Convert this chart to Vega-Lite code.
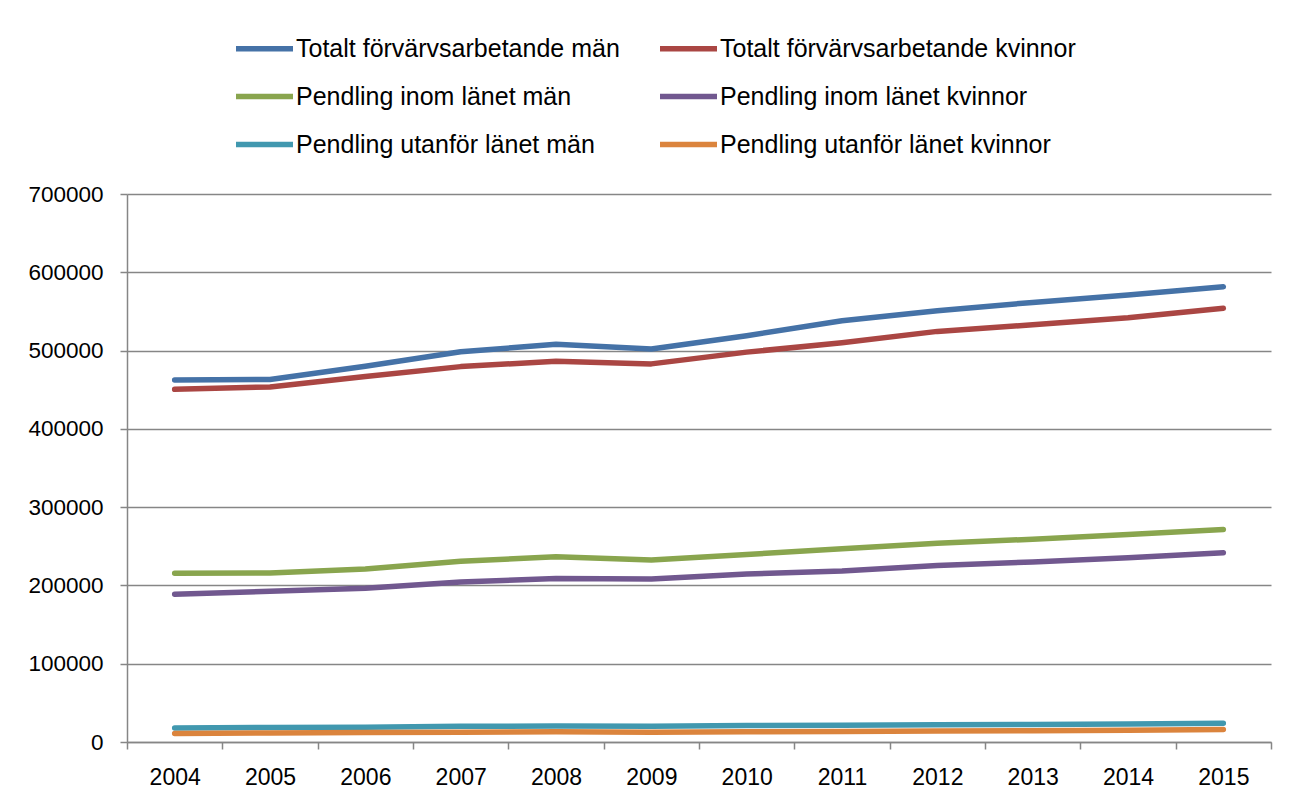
{
  "$schema": "https://vega.github.io/schema/vega-lite/v6.json",
  "width": 1144,
  "height": 548,
  "autosize": {"type": "none"},
  "padding": {"left": 127, "top": 194, "right": 30, "bottom": 63},
  "background": "white",
  "data": {"values": [
    {"year": "2004", "series": "Totalt förvärvsarbetande män", "value": 462500},
    {"year": "2005", "series": "Totalt förvärvsarbetande män", "value": 463000},
    {"year": "2006", "series": "Totalt förvärvsarbetande män", "value": 480000},
    {"year": "2007", "series": "Totalt förvärvsarbetande män", "value": 498500},
    {"year": "2008", "series": "Totalt förvärvsarbetande män", "value": 508000},
    {"year": "2009", "series": "Totalt förvärvsarbetande män", "value": 502000},
    {"year": "2010", "series": "Totalt förvärvsarbetande män", "value": 519000},
    {"year": "2011", "series": "Totalt förvärvsarbetande män", "value": 538000},
    {"year": "2012", "series": "Totalt förvärvsarbetande män", "value": 551000},
    {"year": "2013", "series": "Totalt förvärvsarbetande män", "value": 561500},
    {"year": "2014", "series": "Totalt förvärvsarbetande män", "value": 571000},
    {"year": "2015", "series": "Totalt förvärvsarbetande män", "value": 581500},
    {"year": "2004", "series": "Totalt förvärvsarbetande kvinnor", "value": 450500},
    {"year": "2005", "series": "Totalt förvärvsarbetande kvinnor", "value": 453500},
    {"year": "2006", "series": "Totalt förvärvsarbetande kvinnor", "value": 467000},
    {"year": "2007", "series": "Totalt förvärvsarbetande kvinnor", "value": 479500},
    {"year": "2008", "series": "Totalt förvärvsarbetande kvinnor", "value": 486500},
    {"year": "2009", "series": "Totalt förvärvsarbetande kvinnor", "value": 483000},
    {"year": "2010", "series": "Totalt förvärvsarbetande kvinnor", "value": 498000},
    {"year": "2011", "series": "Totalt förvärvsarbetande kvinnor", "value": 510000},
    {"year": "2012", "series": "Totalt förvärvsarbetande kvinnor", "value": 524500},
    {"year": "2013", "series": "Totalt förvärvsarbetande kvinnor", "value": 533000},
    {"year": "2014", "series": "Totalt förvärvsarbetande kvinnor", "value": 542000},
    {"year": "2015", "series": "Totalt förvärvsarbetande kvinnor", "value": 554000},
    {"year": "2004", "series": "Pendling inom länet män", "value": 215500},
    {"year": "2005", "series": "Pendling inom länet män", "value": 215800},
    {"year": "2006", "series": "Pendling inom länet män", "value": 221000},
    {"year": "2007", "series": "Pendling inom länet män", "value": 231000},
    {"year": "2008", "series": "Pendling inom länet män", "value": 236500},
    {"year": "2009", "series": "Pendling inom länet män", "value": 232500},
    {"year": "2010", "series": "Pendling inom länet män", "value": 239500},
    {"year": "2011", "series": "Pendling inom länet män", "value": 247000},
    {"year": "2012", "series": "Pendling inom länet män", "value": 254000},
    {"year": "2013", "series": "Pendling inom länet män", "value": 259000},
    {"year": "2014", "series": "Pendling inom länet män", "value": 265000},
    {"year": "2015", "series": "Pendling inom länet män", "value": 271500},
    {"year": "2004", "series": "Pendling inom länet kvinnor", "value": 188800},
    {"year": "2005", "series": "Pendling inom länet kvinnor", "value": 192500},
    {"year": "2006", "series": "Pendling inom länet kvinnor", "value": 196500},
    {"year": "2007", "series": "Pendling inom länet kvinnor", "value": 204500},
    {"year": "2008", "series": "Pendling inom länet kvinnor", "value": 208800},
    {"year": "2009", "series": "Pendling inom länet kvinnor", "value": 208200},
    {"year": "2010", "series": "Pendling inom länet kvinnor", "value": 214500},
    {"year": "2011", "series": "Pendling inom länet kvinnor", "value": 218500},
    {"year": "2012", "series": "Pendling inom länet kvinnor", "value": 225500},
    {"year": "2013", "series": "Pendling inom länet kvinnor", "value": 230000},
    {"year": "2014", "series": "Pendling inom länet kvinnor", "value": 235500},
    {"year": "2015", "series": "Pendling inom länet kvinnor", "value": 241800},
    {"year": "2004", "series": "Pendling utanför länet män", "value": 18000},
    {"year": "2005", "series": "Pendling utanför länet män", "value": 18500},
    {"year": "2006", "series": "Pendling utanför länet män", "value": 19000},
    {"year": "2007", "series": "Pendling utanför länet män", "value": 20000},
    {"year": "2008", "series": "Pendling utanför länet män", "value": 20500},
    {"year": "2009", "series": "Pendling utanför länet män", "value": 20000},
    {"year": "2010", "series": "Pendling utanför länet män", "value": 21000},
    {"year": "2011", "series": "Pendling utanför länet män", "value": 21500},
    {"year": "2012", "series": "Pendling utanför länet män", "value": 22000},
    {"year": "2013", "series": "Pendling utanför länet män", "value": 22500},
    {"year": "2014", "series": "Pendling utanför länet män", "value": 23000},
    {"year": "2015", "series": "Pendling utanför länet män", "value": 24000},
    {"year": "2004", "series": "Pendling utanför länet kvinnor", "value": 11000},
    {"year": "2005", "series": "Pendling utanför länet kvinnor", "value": 11500},
    {"year": "2006", "series": "Pendling utanför länet kvinnor", "value": 12000},
    {"year": "2007", "series": "Pendling utanför länet kvinnor", "value": 12500},
    {"year": "2008", "series": "Pendling utanför länet kvinnor", "value": 13000},
    {"year": "2009", "series": "Pendling utanför länet kvinnor", "value": 12500},
    {"year": "2010", "series": "Pendling utanför länet kvinnor", "value": 13000},
    {"year": "2011", "series": "Pendling utanför länet kvinnor", "value": 13500},
    {"year": "2012", "series": "Pendling utanför länet kvinnor", "value": 14000},
    {"year": "2013", "series": "Pendling utanför länet kvinnor", "value": 14500},
    {"year": "2014", "series": "Pendling utanför länet kvinnor", "value": 15000},
    {"year": "2015", "series": "Pendling utanför länet kvinnor", "value": 16000}
  ]},
  "mark": {"type": "line", "strokeWidth": 5.5, "strokeCap": "round", "strokeJoin": "round"},
  "encoding": {
    "x": {
      "field": "year", "type": "ordinal",
      "scale": {"type": "band", "paddingInner": 0, "paddingOuter": 0},
      "axis": {
        "title": null, "labelAngle": 0, "tickBand": "extent", "grid": false,
        "domainColor": "#868686", "domainWidth": 1.5, "tickColor": "#868686", "tickWidth": 1.5, "tickSize": 7,
        "labelFontSize": 23, "labelColor": "#000000", "labelPadding": 17, "labelFont": "Liberation Sans"
      }
    },
    "y": {
      "field": "value", "type": "quantitative",
      "scale": {"domain": [0, 700000], "nice": false},
      "axis": {
        "title": null, "values": [0, 100000, 200000, 300000, 400000, 500000, 600000, 700000],
        "format": "d", "grid": true, "gridColor": "#868686", "gridWidth": 1.5,
        "domainColor": "#868686", "domainWidth": 1.5, "tickColor": "#868686", "tickWidth": 1.5, "tickSize": 7,
        "labelFontSize": 22.5, "labelColor": "#000000", "labelPadding": 17, "labelFont": "Liberation Sans"
      }
    },
    "color": {
      "field": "series", "type": "nominal",
      "scale": {
        "domain": ["Totalt förvärvsarbetande män", "Totalt förvärvsarbetande kvinnor", "Pendling inom länet män", "Pendling inom länet kvinnor", "Pendling utanför länet män", "Pendling utanför länet kvinnor"],
        "range": ["#4572A7", "#AA4643", "#89A54E", "#71588F", "#4198AF", "#DB843D"]
      },
      "legend": {
        "title": null, "orient": "none", "direction": "horizontal", "legendX": 106, "legendY": -177, "columns": 2,
        "symbolType": "stroke", "symbolSize": 3249, "symbolStrokeWidth": 5.5,
        "labelFontSize": 25, "labelFont": "Liberation Sans", "labelColor": "#000000", "labelOffset": 0,
        "rowPadding": 3, "columnPadding": 29, "labelLimit": 600
      }
    }
  },
  "config": {"view": {"stroke": null}, "font": "Liberation Sans"}
}
